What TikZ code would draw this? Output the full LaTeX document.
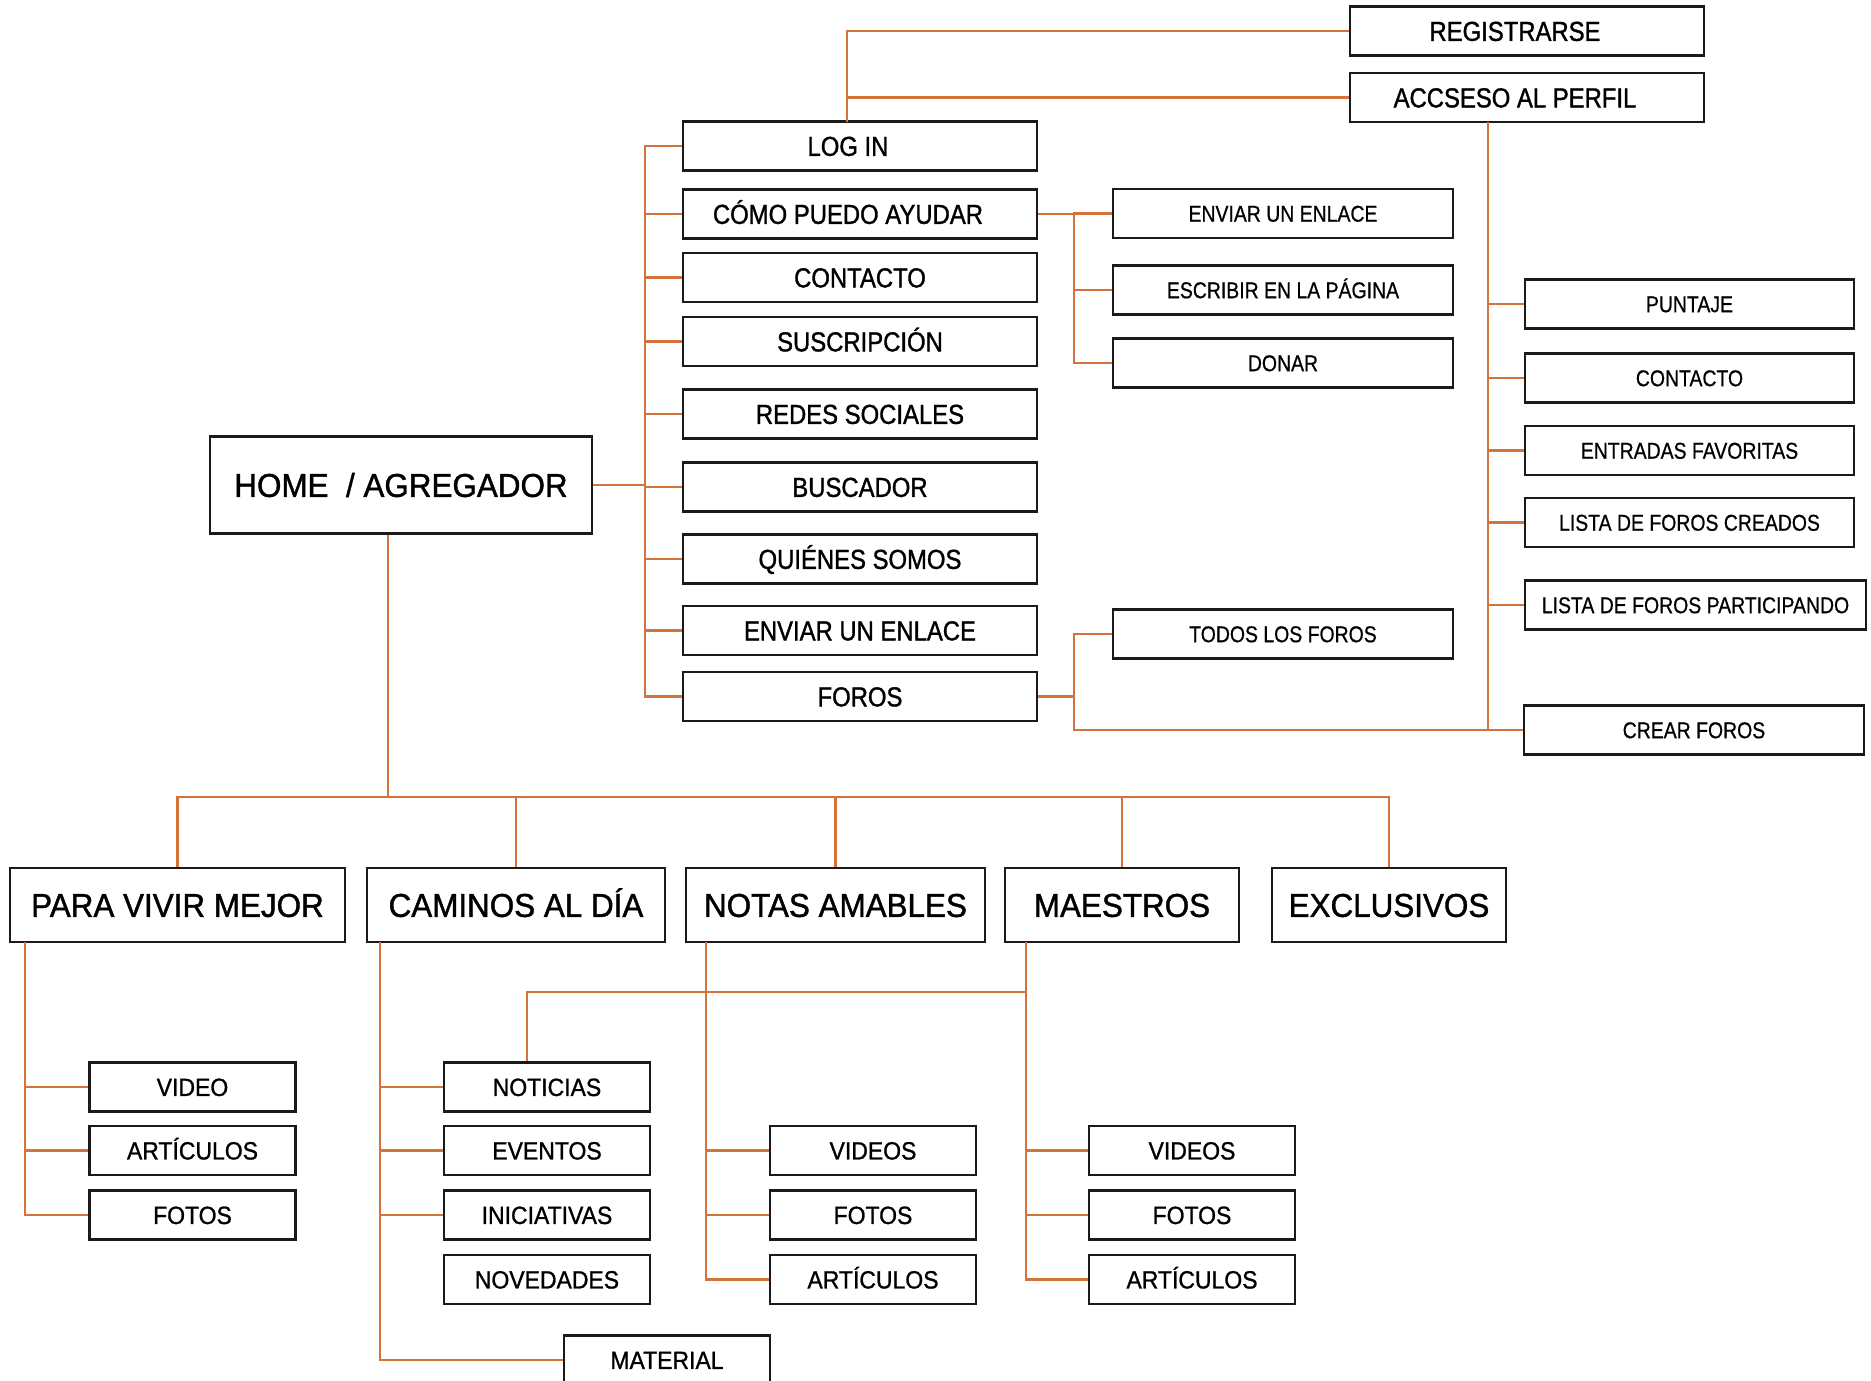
\documentclass[tikz,border=0pt]{standalone}
\usepackage{fontspec}
\newfontfamily\catfont[FakeStretch=0.95,FakeBold=1.2]{Liberation Sans}
\newfontfamily\midfont[FakeStretch=0.87,FakeBold=1.2]{Liberation Sans}
\newfontfamily\subfont[FakeStretch=0.92,FakeBold=1]{Liberation Sans}
\newfontfamily\smlfont[FakeStretch=0.85,FakeBold=0.6]{Liberation Sans}
\definecolor{linea}{HTML}{D4733C}
\definecolor{borde}{HTML}{1A1A1A}
% texto corrido a la izquierda dentro de la caja
\newcommand{\izq}[1]{#1\kern0.24cm}
\tikzset{
  caja/.style={draw=borde, line width=0.65pt, fill=white, inner sep=0pt, minimum height=0.49cm},
  nivel1/.style={caja, minimum width=3.54cm, text height=5.6pt, text depth=0pt,
    font=\midfont\fontsize{7.8pt}{9pt}\selectfont},
  nivel2/.style={caja, minimum width=3.40cm, text height=4.65pt, text depth=0pt,
    font=\smlfont\fontsize{6.5pt}{8pt}\selectfont},
  categoria/.style={caja, minimum height=0.74cm, text height=6.75pt, text depth=0pt,
    font=\catfont\fontsize{9.4pt}{11pt}\selectfont},
  hoja/.style={caja, minimum width=2.06cm, text height=5.1pt, text depth=0pt,
    font=\subfont\fontsize{7.1pt}{8.5pt}\selectfont},
  conector/.style={draw=linea, line width=0.6pt}
}

\begin{document}
\begin{tikzpicture}[x=0.01cm, y=-0.01cm]
\useasboundingbox (0,0) rectangle (1871,1381);

% home
\node[categoria, minimum width=3.82cm, minimum height=0.97cm] (home) at (401,485) {HOME~~/ AGREGADOR};

% registro y perfil
\node[nivel1] (registro) at (1527,31) {\izq{REGISTRARSE}};
\node[nivel1] (acceso) at (1527,97.5) {\izq{ACCSESO AL PERFIL}};

% columna central
\node[nivel1] (login) at (860,146) {\izq{LOG IN}};
\node[nivel1] (ayudar) at (860,214) {\izq{CÓMO PUEDO AYUDAR}};
\node[nivel1] (contacto) at (860,277.5) {CONTACTO};
\node[nivel1] (suscripcion) at (860,341.5) {SUSCRIPCIÓN};
\node[nivel1] (redes) at (860,414) {REDES SOCIALES};
\node[nivel1] (buscador) at (860,487) {BUSCADOR};
\node[nivel1] (quienes) at (860,559) {QUIÉNES SOMOS};
\node[nivel1] (enlace) at (860,630.5) {ENVIAR UN ENLACE};
\node[nivel1] (foros) at (860,696.5) {FOROS};

% como puedo ayudar / foros
\node[nivel2] (enviar) at (1283,213.5) {ENVIAR UN ENLACE};
\node[nivel2] (escribir) at (1283,290) {ESCRIBIR EN LA PÁGINA};
\node[nivel2] (donar) at (1283,363) {DONAR};
\node[nivel2] (todos) at (1283,634) {TODOS LOS FOROS};

% perfil
\node[nivel2, minimum width=3.29cm] (puntaje) at (1689.5,304) {PUNTAJE};
\node[nivel2, minimum width=3.29cm] (contactop) at (1689.5,378) {CONTACTO};
\node[nivel2, minimum width=3.29cm] (favoritas) at (1689.5,450.5) {ENTRADAS FAVORITAS};
\node[nivel2, minimum width=3.29cm] (creados) at (1689.5,522.5) {LISTA DE FOROS CREADOS};
\node[nivel2, minimum width=3.41cm] (participando) at (1695.5,605) {LISTA DE FOROS PARTICIPANDO};
\node[nivel2] (crear) at (1694,730) {CREAR FOROS};

% secciones
\node[categoria, minimum width=3.35cm] (vivir) at (177.5,905) {PARA VIVIR MEJOR};
\node[categoria, minimum width=2.98cm] (caminos) at (516,905) {CAMINOS AL DÍA};
\node[categoria, minimum width=2.99cm] (notas) at (835.5,905) {NOTAS AMABLES};
\node[categoria, minimum width=2.34cm] (maestros) at (1122,905) {MAESTROS};
\node[categoria, minimum width=2.34cm] (exclusivos) at (1389,905) {EXCLUSIVOS};

% para vivir mejor
\node[hoja] (video) at (192.5,1087) {VIDEO};
\node[hoja] (articulosa) at (192.5,1150.5) {ARTÍCULOS};
\node[hoja] (fotosa) at (192.5,1215) {FOTOS};

% caminos al dia
\node[hoja] (noticias) at (547,1087) {NOTICIAS};
\node[hoja] (eventos) at (547,1150.5) {EVENTOS};
\node[hoja] (iniciativas) at (547,1215) {INICIATIVAS};
\node[hoja] (novedades) at (547,1279.5) {NOVEDADES};
\node[hoja] (material) at (667,1360) {MATERIAL};

% notas amables
\node[hoja] (videosb) at (873,1150.5) {VIDEOS};
\node[hoja] (fotosb) at (873,1215) {FOTOS};
\node[hoja] (articulosb) at (873,1279.5) {ARTÍCULOS};

% maestros
\node[hoja] (videosc) at (1192,1150.5) {VIDEOS};
\node[hoja] (fotosc) at (1192,1215) {FOTOS};
\node[hoja] (articulosc) at (1192,1279.5) {ARTÍCULOS};

% conectores
\coordinate (ejelogin) at (847,122);
\draw[conector] (ejelogin) |- (registro.west);
\draw[conector] (ejelogin) |- (acceso.west);

\coordinate (ejecentral) at (645,485);
\draw[conector] (home.east) -- (ejecentral);
\foreach \n in {login,ayudar,contacto,suscripcion,redes,buscador,quienes,enlace,foros}
  \draw[conector] (ejecentral) |- (\n.west);

\coordinate (ejeayudar) at (1074,214);
\draw[conector] (ayudar.east) -- (ejeayudar);
\foreach \n in {enviar,escribir,donar}
  \draw[conector] (ejeayudar) |- (\n.west);

\coordinate (ejeforos) at (1074,696.5);
\draw[conector] (foros.east) -- (ejeforos);
\draw[conector] (ejeforos) |- (todos.west);
\draw[conector] (ejeforos) |- (crear.west);

\coordinate (ejeperfil) at (1488,122);
\foreach \n in {puntaje,contactop,favoritas,creados,participando,crear}
  \draw[conector] (ejeperfil) |- (\n.west);

\coordinate (bus) at (388,797);
\draw[conector] (home.south -| bus) -- (bus);
\foreach \n in {vivir,caminos,notas,maestros,exclusivos}
  \draw[conector] (bus) -| (\n.north);

\coordinate (ejevivir) at (25,942);
\foreach \n in {video,articulosa,fotosa}
  \draw[conector] (ejevivir) |- (\n.west);

\coordinate (ejecaminos) at (380,942);
\foreach \n in {noticias,eventos,iniciativas,material}
  \draw[conector] (ejecaminos) |- (\n.west);

\coordinate (ejenotas) at (706,942);
\foreach \n in {videosb,fotosb,articulosb}
  \draw[conector] (ejenotas) |- (\n.west);

\coordinate (ejemaestros) at (1026,942);
\foreach \n in {videosc,fotosc,articulosc}
  \draw[conector] (ejemaestros) |- (\n.west);

\coordinate (cruce) at (1026,992);
\draw[conector] ([xshift=-0.2cm]noticias.north) |- (cruce);

\end{tikzpicture}
\end{document}
